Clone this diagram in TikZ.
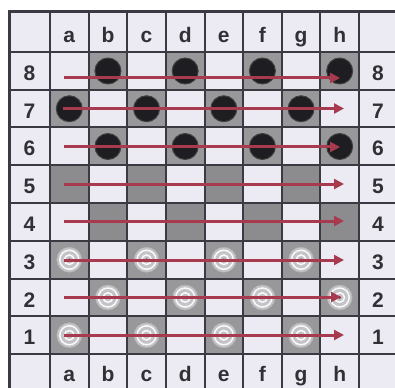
\documentclass[tikz,border=0pt]{standalone}
\usepackage{fontspec}
\setmainfont{Liberation Sans}
\usetikzlibrary{arrows.meta}
\definecolor{lightsq}{HTML}{ECEBF3}
\definecolor{darksq}{HTML}{98989A}
\definecolor{darksqb}{HTML}{8C8C8E}
\definecolor{gridc}{HTML}{3A3A42}
\definecolor{arrowc}{HTML}{A83A50}
\definecolor{labc}{HTML}{303035}
\definecolor{blackp}{HTML}{1E1E22}
\definecolor{ringp}{HTML}{C4C4C8}
\tikzset{
  lab/.style={anchor=base, inner sep=0pt, text=labc, font=\fontsize{21}{21}\selectfont\bfseries},
  blackpiece/.style={circle, fill=blackp, draw=black!75, line width=1pt, minimum size=26pt, inner sep=0pt},
  ringpiece/.style={circle, fill=ringp, draw=gray!60, line width=0.6pt, minimum size=25pt, inner sep=0pt},
  rowarrow/.style={draw=arrowc, line width=3pt, -{Triangle[length=10pt,width=10pt]}},
}
\begin{document}
\begin{tikzpicture}[x=1pt,y=-1pt]
\useasboundingbox (0,0) rectangle (395,387);
\clip (0,0) rectangle (395,387);
\fill[white] (0,0) rectangle (395,387);
% label background
\fill[lightsq] (9,12) rectangle (400,392);
% squares
\foreach \r in {0,...,7}{
  \foreach \c in {0,...,7}{
    \pgfmathtruncatemacro{\p}{mod(\c+\r,2)}
    \pgfmathsetmacro{\xa}{50+38.625*\c}
    \pgfmathsetmacro{\ya}{52+37.75*\r}
    \ifnum\p=1
      \ifnum\r=3 \fill[darksqb] (\xa,\ya) rectangle ++(38.625,37.75);
      \else\ifnum\r=4 \fill[darksqb] (\xa,\ya) rectangle ++(38.625,37.75);
      \else \fill[darksq] (\xa,\ya) rectangle ++(38.625,37.75);
      \fi\fi
    \fi
  }
}
% grid lines
\foreach \i in {0,...,8}{
  \draw[gridc, line width=2pt] ({50+38.625*\i},12) -- ({50+38.625*\i},392);
  \draw[gridc, line width=2pt] (9,{52+37.75*\i}) -- (400,{52+37.75*\i});
}
\draw[gridc, line width=3pt] (9,392) -- (9,12) -- (400,12);
% labels
\foreach \l [count=\c from 0] in {a,b,c,d,e,f,g,h}{
  \node[lab] (top-\l) at ({69.3+38.625*\c},42.5) {\l};
  \node[lab] (bot-\l) at ({69.3+38.625*\c},381) {\l};
}
\foreach \n [count=\r from 0] in {8,7,6,5,4,3,2,1}{
  \node[lab] (left-\n) at (29.5,{80.5+37.75*\r}) {\n};
  \node[lab] (right-\n) at (378,{80.5+37.75*\r}) {\n};
}
% pieces
\foreach \r in {0,1,2,5,6,7}{
  \foreach \c in {0,...,7}{
    \pgfmathtruncatemacro{\p}{mod(\c+\r,2)}
    \pgfmathsetmacro{\xc}{69.3+38.625*\c}
    \pgfmathsetmacro{\yc}{71+37.75*\r}
    \ifnum\p=1
      \ifnum\r<3
        \node[blackpiece] (p\c\r) at (\xc,\yc) {};
      \else
        \node[ringpiece] (p\c\r) at (\xc,\yc) {};
        \draw[white!95!gray, line width=1.5pt] (p\c\r.center) circle[radius=9.5pt];
        \draw[white!95!gray, line width=1.5pt] (p\c\r.center) circle[radius=4.8pt];
        \fill[arrowc!80!black] (p\c\r.center) circle[radius=1.5pt];
      \fi
    \fi
  }
}
% arrows
\coordinate (s8) at (64,78);   \coordinate (e8) at (340,78);
\coordinate (s7) at (63,108.5);  \coordinate (e7) at (344,108.5);
\coordinate (s6) at (64,147);  \coordinate (e6) at (340,147);
\coordinate (s5) at (64,184);  \coordinate (e5) at (344,184);
\coordinate (s4) at (64,221);  \coordinate (e4) at (344,221);
\coordinate (s3) at (64,260);  \coordinate (e3) at (344,260);
\coordinate (s2) at (64,297);  \coordinate (e2) at (341,297);
\coordinate (s1) at (64,335);  \coordinate (e1) at (344,335);
\foreach \k in {8,7,6,5,4,3,2,1}{
  \draw[rowarrow] (s\k) -- (e\k);
}
\end{tikzpicture}
\end{document}
